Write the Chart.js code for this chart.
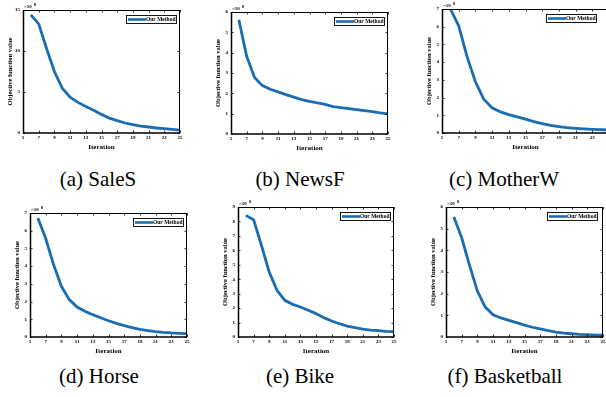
<!DOCTYPE html>
<html>
<head>
<meta charset="utf-8">
<script src="https://cdn.jsdelivr.net/npm/chart.js@4.4.0/dist/chart.umd.min.js"></script>
<style>
html, body { margin:0; padding:0; background:#fff; width:606px; height:397px; overflow:hidden; position:relative; }
canvas { position:absolute; }
.cap { position:absolute; font-family:"Liberation Serif", "Times New Roman", serif; font-size:21px; color:#000;
       white-space:nowrap; transform:translate(-50%,-50%); line-height:1; }
</style>
</head>
<body>
<script>
// iterations shown on every panel
var iterations = [6,7,8,9,10,11,12,13,14,15,16,17,18,19,20,21,22,23,24,25];
var xTicks = [5,7,9,11,13,15,17,19,21,23,25];

// objective function value per dataset
var saleS      = [14.4,13.3,10.3,7.5,5.47,4.38,3.73,3.24,2.76,2.27,1.82,1.5,1.22,1.01,0.85,0.73,0.61,0.53,0.45,0.36];
var newsF      = [5.62,3.82,2.78,2.38,2.2,2.07,1.94,1.81,1.69,1.6,1.53,1.46,1.35,1.3,1.25,1.2,1.15,1.1,1.04,0.99];
var motherW    = [7.0,6.05,4.31,2.89,1.91,1.42,1.19,1.04,0.91,0.78,0.64,0.53,0.43,0.36,0.3,0.26,0.23,0.21,0.19,0.17];
var horse      = [6.72,5.56,4.09,2.86,2.11,1.69,1.45,1.26,1.09,0.92,0.77,0.64,0.53,0.43,0.36,0.3,0.26,0.23,0.21,0.19];
var bike       = [8.42,8.12,6.35,4.5,3.23,2.54,2.26,2.08,1.85,1.62,1.34,1.11,0.92,0.76,0.65,0.55,0.48,0.44,0.39,0.37];
var basketball = [5.54,4.58,3.31,2.12,1.38,1.03,0.88,0.77,0.66,0.55,0.45,0.37,0.29,0.23,0.18,0.15,0.12,0.11,0.09,0.08];

var allSeries = [saleS, newsF, motherW, horse, bike, basketball];
var yMaxes    = [15, 6, 7, 7, 9, 6];
var ySteps    = [5, 1, 1, 1, 1, 1];
var exponents = ['8', '8', '8', '8', '8', '8'];
var captions  = ['(a) SaleS', '(b) NewsF', '(c) MotherW', '(d) Horse', '(e) Bike', '(f) Basketball'];
var legendText = 'Our Method';

// plot boxes in page pixels: left, top, right, bottom
var boxes = [
  [23, 10, 180, 133],
  [231, 12, 388, 134],
  [442, 9, 609, 133],
  [30, 213, 187, 337],
  [238, 207, 394, 337],
  [446, 207, 603, 337]
];
var legendInset = [4, 4, 13, 4, 4, 6];
var capPos = [[98,179],[300,179],[504,179],[99,376],[300,376],[505,376]];

var lineBlue = '#1b6db2';
var serif = "'Liberation Serif','Times New Roman',serif";

// frame with inward ticks, the x10 label and the legend, MATLAB style
var framePlugin = {
  id: 'matlabFrame',
  afterDatasetsDraw: function(chart, args, opts) {
    var ctx = chart.ctx, a = chart.chartArea;
    var xs = chart.scales.x, ys = chart.scales.y;
    ctx.save();
    ctx.strokeStyle = '#000';
    ctx.lineWidth = 0.8;
    ctx.beginPath();
    xs.ticks.forEach(function(t) {
      var px = Math.round(xs.getPixelForValue(t.value)) + 0.5;
      ctx.moveTo(px, a.bottom); ctx.lineTo(px, a.bottom - 2.5);
      ctx.moveTo(px, a.top); ctx.lineTo(px, a.top + 2.5);
    });
    ys.ticks.forEach(function(t) {
      var py = Math.round(ys.getPixelForValue(t.value)) + 0.5;
      ctx.moveTo(a.left, py); ctx.lineTo(a.left + 2.5, py);
      ctx.moveTo(a.right, py); ctx.lineTo(a.right - 2.5, py);
    });
    ctx.stroke();

    //thin top / right
    ctx.lineWidth = 1;
    ctx.beginPath();
    ctx.moveTo(a.left, a.top + 0.5); ctx.lineTo(a.right - 0.5, a.top + 0.5); ctx.lineTo(a.right - 0.5, a.bottom);
    ctx.stroke();
    //heavier left / bottom
    ctx.lineWidth = 1.5;
    ctx.beginPath();
    ctx.moveTo(a.left + 0.5, a.top); ctx.lineTo(a.left + 0.5, a.bottom); ctx.lineTo(a.right, a.bottom);
    ctx.stroke();

    // x10^n
    ctx.fillStyle = '#000';
    ctx.textBaseline = 'alphabetic';
    ctx.font = 'bold 5px ' + serif;
    ctx.fillText('\u00d710', a.left + 1, a.top - 2);
    ctx.font = 'bold 4.5px ' + serif;
    ctx.fillText(opts.exp, a.left + 11, a.top - 4.5);

    // legend box inside the axes
    var lw = 50, lh = 8;
    var lx = a.right - opts.inset - lw, ly = a.top + 5;
    ctx.fillStyle = '#fff';
    ctx.fillRect(lx, ly, lw, lh);
    ctx.lineWidth = 0.9;
    ctx.strokeStyle = '#000';
    ctx.strokeRect(lx + 0.5, ly + 0.5, lw, lh);
    ctx.strokeStyle = lineBlue;
    ctx.lineWidth = 2.6;
    ctx.beginPath();
    ctx.moveTo(lx + 2, ly + lh / 2 + 0.5); ctx.lineTo(lx + 20, ly + lh / 2 + 0.5);
    ctx.stroke();
    ctx.fillStyle = '#000';
    ctx.font = 'bold 5.5px ' + serif;
    ctx.textBaseline = 'middle';
    ctx.fillText(legendText, lx + 20, ly + lh / 2 + 0.8);
    ctx.restore();
  }
};

function makeChart(i) {
  var b = boxes[i];
  var padL = 17, padT = 9, padR = 6, padB = 18;
  var cv = document.createElement('canvas');
  var w = (b[2] - b[0]) + padL + padR;
  var h = (b[3] - b[1]) + padT + padB;
  cv.width = w; cv.height = h;
  cv.style.left = (b[0] - padL) + 'px';
  cv.style.top = (b[1] - padT) + 'px';
  cv.style.width = w + 'px';
  cv.style.height = h + 'px';
  document.body.appendChild(cv);

  var pts = iterations.map(function(it, k) { return {x: it, y: allSeries[i][k]}; });

  new Chart(cv.getContext('2d'), {
    type: 'line',
    data: {
      datasets: [{
        label: legendText,
        data: pts,
        borderColor: lineBlue,
        borderWidth: 2.8,
        pointRadius: 0,
        tension: 0,
        fill: false
      }]
    },
    options: {
      responsive: false,
      animation: false,
      devicePixelRatio: 1,
      layout: { padding: { top: padT, right: padR, left: 0, bottom: 0 } },
      plugins: {
        legend: { display: false },
        tooltip: { enabled: false },
        matlabFrame: { exp: exponents[i], inset: legendInset[i] }
      },
      scales: {
        x: {
          type: 'linear', min: 5, max: 25,
          afterBuildTicks: function(s) { s.ticks = xTicks.map(function(v) { return {value: v}; }); },
          ticks: { color: '#000', font: { family: serif, size: 5, weight: 'bold' }, padding: 2, maxRotation: 0, autoSkip: false },
          grid: { display: false, drawTicks: false },
          border: { display: false },
          title: { display: true, text: 'Iteration', color: '#000', font: { family: serif, size: 7, weight: 'bold' }, padding: 0 },
          afterFit: function(s) { s.height = padB; s.paddingLeft = 0; s.paddingRight = 0; }
        },
        y: {
          min: 0, max: yMaxes[i],
          ticks: { stepSize: ySteps[i], color: '#000', font: { family: serif, size: 5, weight: 'bold' }, padding: 3 },
          grid: { display: false, drawTicks: false },
          border: { display: false },
          title: { display: true, text: 'Objective function value', color: '#000', font: { family: serif, size: 6.5, weight: 'bold' }, padding: 0 },
          afterFit: function(s) { s.width = padL; s.paddingTop = 0; s.paddingBottom = 0; }
        }
      }
    },
    plugins: [framePlugin]
  });
}

for (var i = 0; i < 6; i++) {
  makeChart(i);
  var d = document.createElement('div');
  d.className = 'cap';
  d.textContent = captions[i];
  d.style.left = capPos[i][0] + 'px';
  d.style.top = capPos[i][1] + 'px';
  document.body.appendChild(d);
}
</script>
</body>
</html>
